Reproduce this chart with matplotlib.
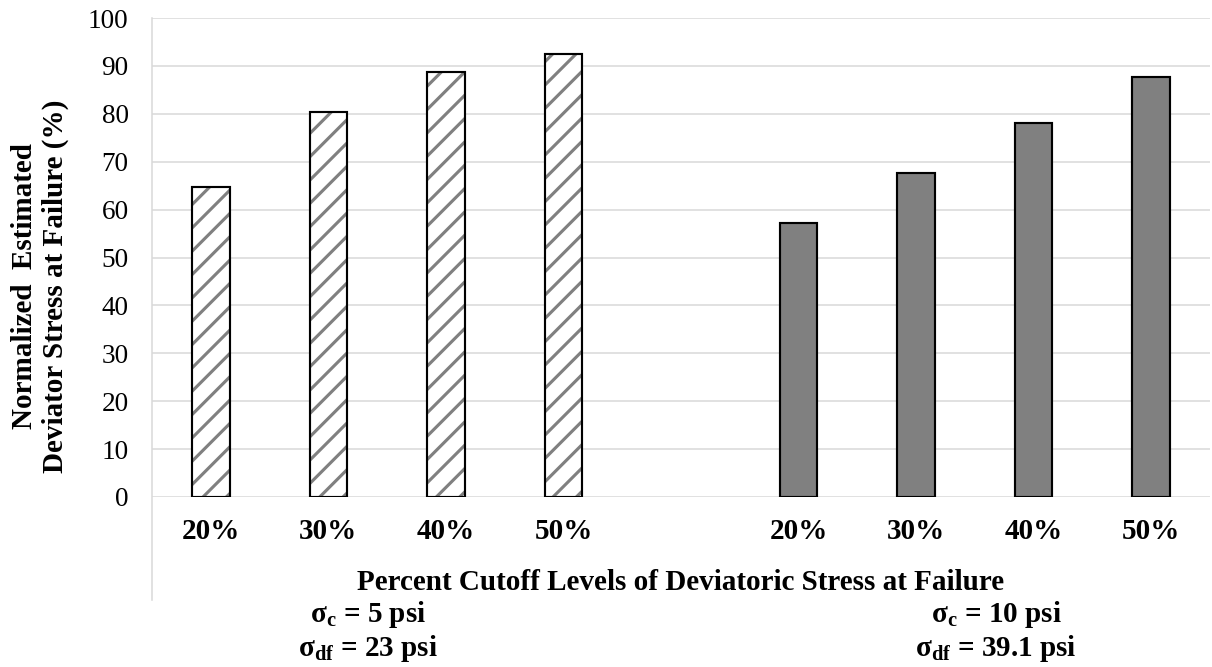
import matplotlib
matplotlib.use("Agg")
import matplotlib.pyplot as plt
from matplotlib.lines import Line2D

# dati
categorie = ["20%", "30%", "40%", "50%"]
valori_5psi = [64.7, 80.4, 88.7, 92.5]
valori_10psi = [57.2, 67.6, 78.1, 87.7]
etichetta_5psi = ["σ$_\\mathbf{c}$ = 5 psi", "σ$_\\mathbf{df}$ = 23 psi"]
etichetta_10psi = ["σ$_\\mathbf{c}$ = 10 psi", "σ$_\\mathbf{df}$ = 39.1 psi"]

plt.rcParams['font.family'] = ['Liberation Serif', 'DejaVu Serif']
plt.rcParams['mathtext.fontset'] = 'custom'
plt.rcParams['mathtext.rm'] = 'Liberation Serif'
plt.rcParams['mathtext.bf'] = 'Liberation Serif:bold'
plt.rcParams['hatch.linewidth'] = 1.6

DPI = 140
W, H = 1212, 667
fig = plt.figure(figsize=(W / DPI, H / DPI), dpi=DPI)
ax = fig.add_axes([152 / W, 1 - 497 / H, 1058 / W, (497 - 18) / H])

# posizioni: 4 barre, una categoria vuota, 4 barre
pos_sx = list(range(len(categorie)))
pos_dx = [p + len(categorie) + 1 for p in pos_sx]
larghezza = 0.32

# barre tratteggiate (tratteggio grigio + bordo nero sopra)
ax.bar(pos_sx, valori_5psi, width=larghezza, color='white', edgecolor='#808080',
       hatch='//', linewidth=0, zorder=2)
ax.bar(pos_sx, valori_5psi, width=larghezza, fill=False, edgecolor='black',
       linewidth=1.1, zorder=3)
# barre piene grigie
ax.bar(pos_dx, valori_10psi, width=larghezza, color='#808080', edgecolor='black',
       linewidth=1.1, zorder=3)

ax.set_xlim(-0.5, 8.5)
ax.set_ylim(0, 100)
ax.set_yticks(range(0, 101, 10))
ax.set_xticks(pos_sx + pos_dx)
ax.set_xticklabels(categorie + categorie, fontweight='bold')
ax.tick_params(axis='both', length=0)
ax.tick_params(axis='x', pad=11, labelsize=15)
ax.tick_params(axis='y', pad=12, labelsize=14)
ax.yaxis.grid(True, color='#d9d9d9', linewidth=0.8, zorder=0)
ax.set_axisbelow(True)
for s in ax.spines.values():
    s.set_visible(False)

# asse verticale che scende sotto le etichette
fig.add_artist(Line2D([152 / W, 152 / W], [1 - 18 / H, 1 - 600 / H],
                      transform=fig.transFigure, color='#d9d9d9', linewidth=0.8))

fig.text(40 / W, 1 - 286 / H, "Normalized  Estimated\nDeviator Stress at Failure (%)",
         rotation=90, ha='center', va='center', fontsize=15, fontweight='bold',
         linespacing=1.22)
fig.text(681 / W, 1 - 582 / H, "Percent Cutoff Levels of Deviatoric Stress at Failure",
         ha='center', va='center', fontsize=15, fontweight='bold')

for testo, y in zip(etichetta_5psi, [615, 648]):
    fig.text(368 / W, 1 - y / H, testo, ha='center', va='center',
             fontsize=15, fontweight='bold')
for testo, y in zip(etichetta_10psi, [615, 648]):
    fig.text(996 / W, 1 - y / H, testo, ha='center', va='center',
             fontsize=15, fontweight='bold')

fig.savefig("out.png", dpi=DPI)
